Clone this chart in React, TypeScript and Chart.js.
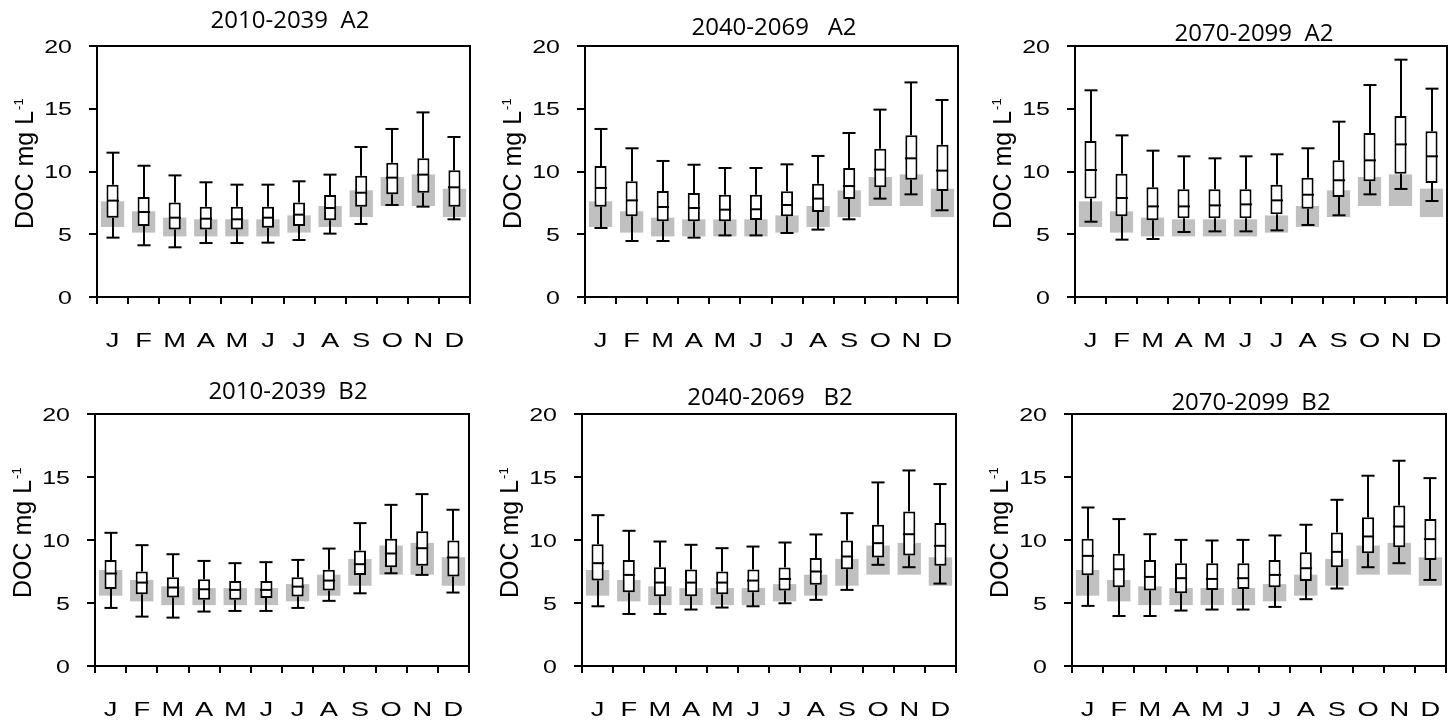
import React, { useEffect, useRef } from "react";
import { Chart, registerables } from "chart.js";

Chart.register(...registerables);

// ---------- DATA ----------
const months = ["J", "F", "M", "A", "M", "J", "J", "A", "S", "O", "N", "D"];

// observed baseline range (grey bars, identical in every panel)
const baseLow = [5.58, 5.13, 4.83, 4.83, 4.83, 4.83, 5.13, 5.58, 6.37, 7.25, 7.25, 6.37];
const baseHigh = [7.62, 6.83, 6.32, 6.19, 6.19, 6.19, 6.5, 7.25, 8.5, 9.56, 9.77, 8.63];

// 2010-2039 A2
const a2p1Min = [4.73, 4.12, 3.96, 4.3, 4.3, 4.33, 4.54, 5.05, 5.82, 7.33, 7.2, 6.19];
const a2p1Q1 = [6.32, 5.66, 5.37, 5.37, 5.37, 5.52, 5.66, 6.11, 7.2, 8.18, 8.31, 7.2];
const a2p1Med = [7.68, 6.77, 6.32, 6.24, 6.19, 6.32, 6.56, 7.09, 8.31, 9.51, 9.75, 8.74];
const a2p1Q3 = [8.95, 7.97, 7.52, 7.2, 7.2, 7.2, 7.52, 8.13, 9.67, 10.7, 11.05, 10.09];
const a2p1Max = [11.5, 10.46, 9.69, 9.14, 8.95, 8.95, 9.22, 9.75, 11.95, 13.39, 14.71, 12.75];

// 2040-2069 A2
const a2p2Min = [5.5, 4.46, 4.46, 4.73, 4.91, 4.91, 5.1, 5.37, 6.19, 7.84, 8.18, 6.91];
const a2p2Q1 = [7.2, 6.43, 6.03, 6.03, 6.03, 6.14, 6.43, 6.77, 7.81, 8.74, 9.35, 8.45];
const a2p2Med = [8.69, 7.7, 7.17, 7.09, 6.96, 6.99, 7.33, 7.84, 8.84, 10.15, 11.05, 10.07];
const a2p2Q3 = [10.44, 9.22, 8.45, 8.29, 8.15, 8.15, 8.42, 9.03, 10.28, 11.82, 12.88, 12.14];
const a2p2Max = [13.39, 11.85, 10.84, 10.54, 10.28, 10.28, 10.57, 11.24, 13.07, 14.93, 17.1, 15.7];

// 2070-2099 A2
const a2p3Min = [6.0, 4.57, 4.62, 5.18, 5.23, 5.23, 5.31, 5.74, 6.51, 8.18, 8.61, 7.65];
const a2p3Q1 = [7.84, 6.43, 6.11, 6.27, 6.27, 6.27, 6.59, 7.04, 7.97, 9.22, 9.83, 9.08];
const a2p3Med = [10.12, 7.89, 7.22, 7.22, 7.3, 7.38, 7.7, 8.15, 9.3, 10.89, 12.16, 11.21];
const a2p3Q3 = [12.43, 9.83, 8.74, 8.58, 8.58, 8.58, 8.95, 9.51, 10.89, 13.07, 14.42, 13.2];
const a2p3Max = [16.47, 12.88, 11.66, 11.21, 11.05, 11.21, 11.37, 11.85, 13.97, 16.89, 18.91, 16.6];

// 2010-2039 B2
const b2p1Min = [4.61, 3.92, 3.84, 4.32, 4.37, 4.37, 4.61, 5.17, 5.77, 7.36, 7.23, 5.83];
const b2p1Q1 = [6.12, 5.69, 5.43, 5.25, 5.25, 5.4, 5.51, 5.99, 7.23, 7.84, 7.95, 7.1];
const b2p1Med = [7.34, 6.62, 6.23, 6.09, 6.04, 6.04, 6.3, 6.78, 8.08, 8.93, 9.35, 8.61];
const b2p1Q3 = [8.42, 7.5, 7.05, 6.89, 6.75, 6.75, 7.05, 7.63, 9.17, 10.09, 10.7, 9.96];
const b2p1Max = [10.57, 9.59, 8.87, 8.34, 8.16, 8.24, 8.42, 9.32, 11.34, 12.79, 13.64, 12.4];

// 2040-2069 B2
const b2p2Min = [4.74, 4.13, 4.13, 4.48, 4.64, 4.74, 4.98, 5.25, 6.04, 8.03, 7.84, 6.54];
const b2p2Q1 = [6.78, 5.85, 5.54, 5.54, 5.69, 5.85, 5.99, 6.44, 7.68, 8.61, 8.77, 7.95];
const b2p2Med = [8.16, 7.23, 6.62, 6.62, 6.62, 6.78, 6.91, 7.5, 8.69, 9.75, 10.46, 9.54];
const b2p2Q3 = [9.67, 8.42, 7.84, 7.66, 7.5, 7.66, 7.81, 8.58, 9.96, 11.21, 12.26, 11.34];
const b2p2Max = [11.97, 10.73, 9.88, 9.62, 9.35, 9.48, 9.8, 10.44, 12.13, 14.57, 15.52, 14.44];

// 2070-2099 B2
const b2p3Min = [4.77, 3.97, 3.97, 4.4, 4.48, 4.48, 4.69, 5.3, 6.15, 7.84, 8.16, 6.83];
const b2p3Q1 = [7.21, 6.25, 5.99, 5.77, 6.04, 6.12, 6.25, 6.75, 7.84, 8.95, 9.43, 8.42];
const b2p3Med = [8.74, 7.68, 7.07, 6.97, 6.91, 6.97, 7.23, 7.76, 9.06, 10.28, 11.07, 10.07];
const b2p3Q3 = [10.09, 8.9, 8.42, 8.16, 8.16, 8.16, 8.42, 9.03, 10.6, 11.81, 12.74, 11.66];
const b2p3Max = [12.58, 11.66, 10.46, 10.01, 9.96, 10.01, 10.36, 11.21, 13.19, 15.1, 16.29, 14.91];

const yMin = 0;
const yMax = 20;
const yStep = 5;
const yTitleMain = "DOC mg L";
const yTitleSup = "-1";

// ---------- LAYOUT / STYLE ----------
type Panel = {
  title: string;
  min: number[];
  q1: number[];
  med: number[];
  q3: number[];
  max: number[];
  x0: number;
  y0: number;
  w: number;
  h: number;
  L: number;
  T: number;
  R: number;
  B: number;
  tx: number;
  ty: number;
};

const PANELS: Panel[] = [
  { title: "2010-2039  A2", min: a2p1Min, q1: a2p1Q1, med: a2p1Med, q3: a2p1Q3, max: a2p1Max, x0: 0, y0: 0, w: 485, h: 360, L: 97, T: 46, R: 470, B: 297, tx: 290, ty: 19 },
  { title: "2040-2069   A2", min: a2p2Min, q1: a2p2Q1, med: a2p2Med, q3: a2p2Q3, max: a2p2Max, x0: 485, y0: 0, w: 485, h: 360, L: 585, T: 46, R: 958, B: 297, tx: 774, ty: 26 },
  { title: "2070-2099  A2", min: a2p3Min, q1: a2p3Q1, med: a2p3Med, q3: a2p3Q3, max: a2p3Max, x0: 970, y0: 0, w: 485, h: 360, L: 1075, T: 46, R: 1447, B: 297, tx: 1254, ty: 32 },
  { title: "2010-2039  B2", min: b2p1Min, q1: b2p1Q1, med: b2p1Med, q3: b2p1Q3, max: b2p1Max, x0: 0, y0: 360, w: 485, h: 363, L: 95, T: 414, R: 469, B: 666, tx: 288, ty: 390 },
  { title: "2040-2069   B2", min: b2p2Min, q1: b2p2Q1, med: b2p2Med, q3: b2p2Q3, max: b2p2Max, x0: 485, y0: 360, w: 485, h: 363, L: 582, T: 414, R: 956, B: 666, tx: 770, ty: 396 },
  { title: "2070-2099  B2", min: b2p3Min, q1: b2p3Q1, med: b2p3Med, q3: b2p3Q3, max: b2p3Max, x0: 970, y0: 360, w: 485, h: 363, L: 1072, T: 414, R: 1446, B: 666, tx: 1251, ty: 401 },
];

const GREY = "#c0c0c0";
const YTICK = 8;
const XTICK = 7;
const BOX_PCT = 0.39;
const GREY_PCT = 0.75;
const CAP_PCT = 0.42;
const SANS = '"Liberation Sans", Arial, sans-serif';

function stretched(ctx: CanvasRenderingContext2D, text: string, x: number, y: number, align: CanvasTextAlign, sx: number) {
  ctx.save();
  ctx.translate(x, y);
  ctx.scale(sx, 1);
  ctx.textAlign = align;
  ctx.textBaseline = "alphabetic";
  ctx.fillText(text, 0, 0);
  ctx.restore();
}

function makePlugin(p: Panel) {
  return {
    id: "boxExtras",
    afterDatasetsDraw(chart: any) {
      const ctx: CanvasRenderingContext2D = chart.ctx;
      const xs = chart.scales.x;
      const ys = chart.scales.y;
      const ca = chart.chartArea;
      const catW = (ca.right - ca.left) / months.length;
      ctx.save();
      ctx.strokeStyle = "#000";
      ctx.lineWidth = 2;
      ctx.lineCap = "butt";
      const line = (x1: number, y1: number, x2: number, y2: number) => {
        ctx.beginPath();
        ctx.moveTo(x1, y1);
        ctx.lineTo(x2, y2);
        ctx.stroke();
      };
      months.forEach((_, i) => {
        const x = Math.round(xs.getPixelForValue(i));
        const yLo = ys.getPixelForValue(p.min[i]);
        const yQ1 = ys.getPixelForValue(p.q1[i]);
        const yMd = ys.getPixelForValue(p.med[i]);
        const yQ3 = ys.getPixelForValue(p.q3[i]);
        const yHi = ys.getPixelForValue(p.max[i]);
        const capH = (catW * CAP_PCT) / 2;
        const boxH = (catW * BOX_PCT) / 2;
        line(x, yQ1, x, yLo);
        line(x - capH, yLo, x + capH, yLo);
        line(x, yQ3, x, yHi);
        line(x - capH, yHi, x + capH, yHi);
        line(x - boxH, yMd, x + boxH, yMd);
      });
      // frame
      ctx.strokeRect(ca.left, ca.top, ca.right - ca.left, ca.bottom - ca.top);

      ctx.fillStyle = "#000";
      // y tick labels
      ctx.font = `18.5px ${SANS}`;
      ys.ticks.forEach((t: any) => {
        const y = ys.getPixelForValue(t.value);
        stretched(ctx, String(t.value), ca.left - 25, y + 6.6, "right", 1.35);
      });
      // x month labels
      ctx.font = `21px ${SANS}`;
      xs.ticks.forEach((t: any, i: number) => {
        const x = xs.getPixelForValue(t.value);
        stretched(ctx, xs.getLabelForValue(t.value), x, ca.bottom + 50, "center", 1.3);
      });
      // y axis title
      ctx.save();
      ctx.translate(ca.left - 64, ca.bottom - 68);
      ctx.rotate(-Math.PI / 2);
      ctx.textAlign = "left";
      ctx.textBaseline = "alphabetic";
      ctx.font = `25px ${SANS}`;
      ctx.fillText(yTitleMain, 0, 0);
      const wMain = ctx.measureText(yTitleMain).width;
      ctx.font = `13px ${SANS}`;
      ctx.fillText(yTitleSup, wMain + 1, -10.5);
      ctx.restore();
      // panel title
      ctx.font = '24px "Open Sans", sans-serif';
      ctx.textAlign = "center";
      ctx.textBaseline = "alphabetic";
      ctx.fillText(p.title, p.tx - p.x0, p.ty - p.y0 + 8.5);
      ctx.restore();
    },
  };
}

function BoxPanel({ p }: { p: Panel }) {
  const ref = useRef<HTMLCanvasElement | null>(null);
  useEffect(() => {
    const canvas = ref.current;
    if (!canvas) return;
    const chart = new Chart(canvas, {
      type: "bar",
      data: {
        labels: months,
        datasets: [
          {
            data: baseLow.map((v, i) => [v, baseHigh[i]]),
            backgroundColor: GREY,
            borderWidth: 0,
            barPercentage: GREY_PCT,
            categoryPercentage: 1,
            grouped: false,
            order: 2,
          } as any,
          {
            data: p.q1.map((v, i) => [v, p.q3[i]]),
            backgroundColor: "#ffffff",
            borderColor: "#000000",
            borderWidth: 2,
            borderSkipped: false,
            barPercentage: BOX_PCT,
            categoryPercentage: 1,
            grouped: false,
            order: 1,
          } as any,
        ],
      },
      options: {
        responsive: false,
        animation: false,
        devicePixelRatio: 1,
        events: [],
        layout: {
          autoPadding: false,
          padding: {
            left: p.L - p.x0 - YTICK,
            top: p.T - p.y0,
            right: p.x0 + p.w - p.R,
            bottom: p.y0 + p.h - p.B - XTICK,
          },
        },
        plugins: {
          legend: { display: false },
          tooltip: { enabled: false },
          title: { display: false },
        },
        scales: {
          x: {
            type: "category",
            offset: true,
            grid: {
              offset: true,
              drawOnChartArea: false,
              drawTicks: true,
              tickLength: XTICK,
              color: "#000",
              lineWidth: 2,
            },
            border: { display: true, color: "#000", width: 2 },
            ticks: { display: false },
            afterFit: (s: any) => {
              s.height = XTICK;
            },
          },
          y: {
            min: yMin,
            max: yMax,
            ticks: { display: false, stepSize: yStep },
            grid: {
              drawOnChartArea: false,
              drawTicks: true,
              tickLength: YTICK,
              color: "#000",
              lineWidth: 2,
            },
            border: { display: true, color: "#000", width: 2 },
            afterFit: (s: any) => {
              s.width = YTICK;
            },
          },
        },
      } as any,
      plugins: [makePlugin(p)],
    });
    return () => chart.destroy();
  }, [p]);
  return (
    <canvas
      ref={ref}
      width={p.w}
      height={p.h}
      style={{ position: "absolute", left: p.x0, top: p.y0, width: p.w, height: p.h }}
    />
  );
}

export default function App() {
  return (
    <div style={{ position: "absolute", left: 0, top: 0, width: 1455, height: 723, background: "#fff" }}>
      {PANELS.map((p, i) => (
        <BoxPanel key={i} p={p} />
      ))}
    </div>
  );
}
